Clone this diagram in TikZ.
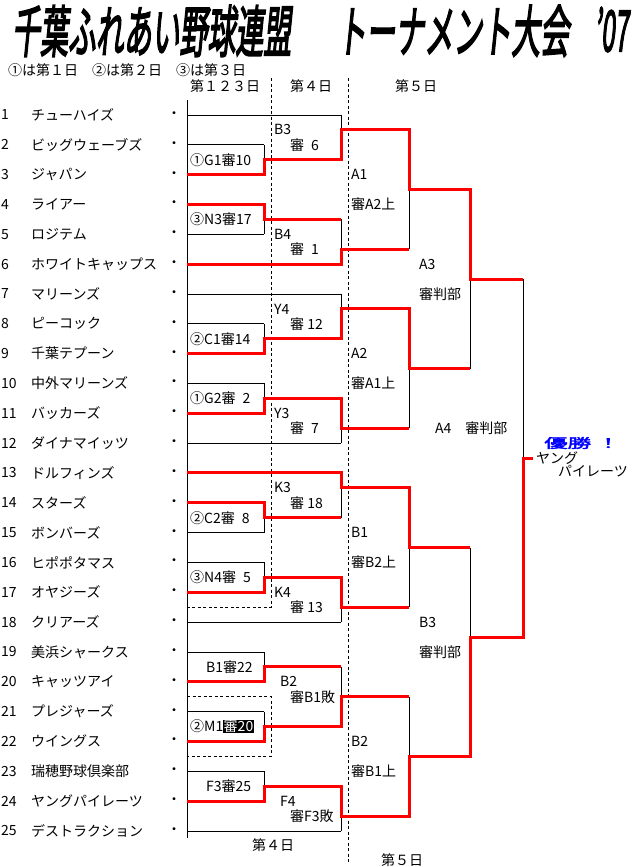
\documentclass[tikz,border=0pt]{standalone}
\usepackage{fontspec}
\setmainfont{Noto Sans CJK JP}
\newfontfamily\titlefont[FakeBold=3.5,FakeSlant=0.2]{Noto Sans CJK JP}
\newfontfamily\boldjp[FakeBold=2.5]{Noto Sans CJK JP}
\newcommand\fs{\fontsize{14}{16}\selectfont}
\begin{document}
\begin{tikzpicture}[x=1pt,y=-1pt,
  declare function={ry(\i)=115+(\i-1)*29.83;},
  blk/.style={line width=0.8pt, black},
  win/.style={line width=3pt, red, line join=miter},
  dsh/.style={line width=0.8pt, black, dash pattern=on 3pt off 2.5pt},
  txt/.style={anchor=west, inner sep=0pt, font=\fs},
  ttl/.style={anchor=north west, inner xsep=4pt, inner ysep=0pt},
]
\useasboundingbox (0,0) rectangle (637,867);
\fill[white] (0,0) rectangle (637,867);

% ---------- title ----------
\node[ttl] (t1) at (8,5) {\resizebox{279pt}{47pt}{\titlefont 千葉ふれあい野球連盟}};
\node[ttl] (t2) at (333,5) {\resizebox{232pt}{47pt}{\titlefont トーナメント大会}};
\node[ttl] (t3) at (590,7) {\resizebox{34pt}{44pt}{\titlefont ’07}};

% ---------- headers ----------
\node[txt] (h1) at (8,70) {①は第１日　②は第２日　③は第３日};
\node[txt] (h2) at (190,86) {第１２３日};
\node[txt] (h3) at (290,86) {第４日};
\node[txt] (h4) at (395,86) {第５日};
\node[txt] (f1) at (252,845) {第４日};
\node[txt] (f2) at (381,860) {第５日};

% ---------- team list ----------
\foreach \i/\n in {1/チューハイズ,2/ビッグウェーブズ,3/ジャパン,4/ライアー,5/ロジテム,
  6/ホワイトキャップス,7/マリーンズ,8/ピーコック,9/千葉テプーン,10/中外マリーンズ,
  11/バッカーズ,12/ダイナマイッツ,13/ドルフィンズ,14/スターズ,15/ボンバーズ,
  16/ヒポポタマス,17/オヤジーズ,18/クリアーズ,19/美浜シャークス,20/キャッツアイ,
  21/プレジャーズ,22/ウイングス,23/瑞穂野球倶楽部,24/ヤングパイレーツ,25/デストラクション}{
  \node[txt] (num\i) at (1,{ry(\i)}) {\i};
  \node[txt] (team\i) at (31,{ry(\i)}) {\n};
  \node[inner sep=0pt,font=\fs] (dot\i) at (174,{ry(\i)}) {・};
}

% ---------- dashed day separators ----------
\draw[dsh] (271,78) -- (271,{ry(17.5)}) -- (187,{ry(17.5)});
\draw[dsh] (187,{ry(20.5)}) -- (271,{ry(20.5)}) -- (271,{ry(22.5)}) -- (187,{ry(22.5)});
\draw[dsh] (348,78) -- (348,862);

% ---------- black bracket lines ----------
\draw[blk] (187,100) -- (187,838);
\foreach \r in {1,7,12,18,25} \draw[blk] (187,{ry(\r)}) -- (341,{ry(\r)});
\foreach \r in {2,3,4,5,8,9,10,11,14,15,16,17,19,20,21,22,23,24} \draw[blk] (187,{ry(\r)}) -- (264,{ry(\r)});
\foreach \a/\b in {2/3,4/5,8/9,10/11,14/15,16/17,19/20,21/22,23/24} \draw[blk] (264,{ry(\a)}) -- (264,{ry(\b)});
\foreach \a/\b in {1/2.5,4.5/6,7/8.5,10.5/12,13/14.5,16.5/18,19.5/21.5,23.5/25} \draw[blk] (341,{ry(\a)}) -- (341,{ry(\b)});
\foreach \a/\b in {1.5/5.5,7.5/11.5,13.5/17.5,20.5/24.5} \draw[blk] (409,{ry(\a)}) -- (409,{ry(\b)});
\foreach \a/\b in {3.5/9.5,15.5/22.5} \draw[blk] (470,{ry(\a)}) -- (470,{ry(\b)});
\draw[blk] (523,{ry(6.5)}) -- (523,{ry(18.5)});

% ---------- red winning paths ----------
\draw[win] (187,{ry(3)}) -- (264,{ry(3)}) -- (264,{ry(2.5)}) -- (341,{ry(2.5)}) -- (341,{ry(1.5)}) -- (409,{ry(1.5)}) -- (409,{ry(3.5)}) -- (470,{ry(3.5)}) -- (470,{ry(6.5)}) -- (523,{ry(6.5)});
\draw[win] (187,{ry(4)}) -- (264,{ry(4)}) -- (264,{ry(4.5)}) -- (341,{ry(4.5)});
\draw[win] (187,{ry(6)}) -- (341,{ry(6)}) -- (341,{ry(5.5)}) -- (409,{ry(5.5)});
\draw[win] (187,{ry(9)}) -- (264,{ry(9)}) -- (264,{ry(8.5)}) -- (341,{ry(8.5)}) -- (341,{ry(7.5)}) -- (409,{ry(7.5)}) -- (409,{ry(9.5)}) -- (470,{ry(9.5)});
\draw[win] (187,{ry(11)}) -- (264,{ry(11)}) -- (264,{ry(10.5)}) -- (341,{ry(10.5)}) -- (341,{ry(11.5)}) -- (409,{ry(11.5)});
\draw[win] (187,{ry(13)}) -- (341,{ry(13)}) -- (341,{ry(13.5)}) -- (409,{ry(13.5)}) -- (409,{ry(15.5)}) -- (470,{ry(15.5)});
\draw[win] (187,{ry(14)}) -- (264,{ry(14)}) -- (264,{ry(14.5)}) -- (341,{ry(14.5)});
\draw[win] (187,{ry(17)}) -- (264,{ry(17)}) -- (264,{ry(16.5)}) -- (341,{ry(16.5)}) -- (341,{ry(17.5)}) -- (409,{ry(17.5)});
\draw[win] (187,{ry(20)}) -- (264,{ry(20)}) -- (264,{ry(19.5)}) -- (341,{ry(19.5)});
\draw[win] (187,{ry(22)}) -- (264,{ry(22)}) -- (264,{ry(21.5)}) -- (341,{ry(21.5)}) -- (341,{ry(20.5)}) -- (409,{ry(20.5)});
\draw[win] (187,{ry(24)}) -- (264,{ry(24)}) -- (264,{ry(23.5)}) -- (341,{ry(23.5)}) -- (341,{ry(24.5)}) -- (409,{ry(24.5)}) -- (409,{ry(22.5)}) -- (470,{ry(22.5)}) -- (470,{ry(18.5)}) -- (523,{ry(18.5)}) -- (523,{ry(12.5)}) -- (533,{ry(12.5)});

% ---------- first-round box labels ----------
\node[txt] (g1) at (190,{ry(2.5)}) {①G1審10};
\node[txt] (n3) at (190,{ry(4.5)}) {③N3審17};
\node[txt] (c1) at (190,{ry(8.5)}) {②C1審14};
\node[txt] (g2) at (190,{ry(10.5)}) {①G2審\enspace 2};
\node[txt] (c2) at (190,{ry(14.5)}) {②C2審\enspace 8};
\node[txt] (n4) at (190,{ry(16.5)}) {③N4審\enspace 5};
\node[txt] (b1b) at (206,{ry(19.5)}) {B1審22};
\node[txt] (m1) at (190,{ry(21.5)}) {②M1\setlength{\fboxsep}{0.4pt}\colorbox{black}{\color{white}審20}};
\node[txt] (f3) at (206,{ry(23.5)}) {F3審25};

% ---------- 4th-day labels ----------
\node[txt] (lb3) at (274,{ry(1.5)}) {B3};   \node[txt] (jb3) at (290,{ry(2)}) {審\enspace 6};
\node[txt] (lb4) at (274,{ry(5)}) {B4};     \node[txt] (jb4) at (290,{ry(5.5)}) {審\enspace 1};
\node[txt] (ly4) at (274,{ry(7.5)}) {Y4};   \node[txt] (jy4) at (290,{ry(8)}) {審 12};
\node[txt] (ly3) at (274,{ry(11)}) {Y3};    \node[txt] (jy3) at (290,{ry(11.5)}) {審\enspace 7};
\node[txt] (lk3) at (274,{ry(13.5)}) {K3};  \node[txt] (jk3) at (290,{ry(14)}) {審 18};
\node[txt] (lk4) at (274,{ry(17)}) {K4};    \node[txt] (jk4) at (290,{ry(17.5)}) {審 13};
\node[txt] (lb2) at (280,{ry(20)}) {B2};    \node[txt] (jb2) at (290,{ry(20.5)}) {審B1敗};
\node[txt] (lf4) at (280,{ry(24)}) {F4};    \node[txt] (jf4) at (290,{ry(24.5)}) {審F3敗};

% ---------- 5th-day labels ----------
\node[txt] (la1) at (351,{ry(3)}) {A1};   \node[txt] (ja1) at (351,{ry(4)}) {審A2上};
\node[txt] (la2) at (351,{ry(9)}) {A2};   \node[txt] (ja2) at (351,{ry(10)}) {審A1上};
\node[txt] (lbb1) at (351,{ry(15)}) {B1}; \node[txt] (jbb1) at (351,{ry(16)}) {審B2上};
\node[txt] (lbb2) at (351,{ry(22)}) {B2}; \node[txt] (jbb2) at (351,{ry(23)}) {審B1上};
\node[txt] (la3) at (419,{ry(6)}) {A3};   \node[txt] (ja3) at (419,{ry(7)}) {審判部};
\node[txt] (lbb3) at (419,{ry(18)}) {B3}; \node[txt] (jbb3) at (419,{ry(19)}) {審判部};
\node[txt] (la4) at (435,{ry(11.5)}) {A4　審判部};

% ---------- champion ----------
\node[anchor=west,inner sep=0pt,text=blue,xscale=1.8] (yusho) at (544,443) {\fontsize{13}{15}\boldjp 優勝\hspace{3pt}！};
\node[txt] (ch1) at (536,{ry(12.5)}) {ヤング};
\node[txt] (ch2) at (558,471) {パイレーツ};
\end{tikzpicture}
\end{document}
